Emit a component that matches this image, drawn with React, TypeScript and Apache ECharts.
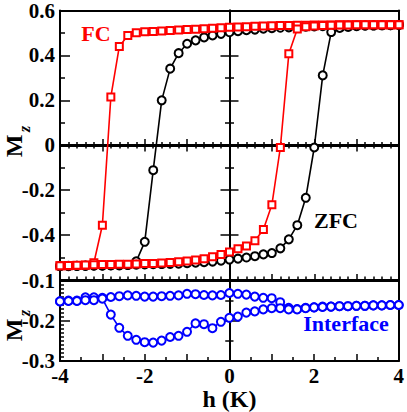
import React, { useEffect, useRef } from 'react';
import * as echarts from 'echarts';

// field h (K)
const H = [
  -4.0, -3.8, -3.6, -3.4, -3.2, -3.0, -2.8, -2.6, -2.4, -2.2, -2.0,
  -1.8, -1.6, -1.4, -1.2, -1.0, -0.8, -0.6, -0.4, -0.2, 0.0,
  0.2, 0.4, 0.6, 0.8, 1.0, 1.2, 1.4, 1.6, 1.8, 2.0,
  2.2, 2.4, 2.6, 2.8, 3.0, 3.2, 3.4, 3.6, 3.8, 4.0,
];

// FC loop
const fcDesc = [
  -0.536, -0.536, -0.535, -0.534, -0.523, -0.356, 0.215, 0.44, 0.489, 0.501, 0.505,
  0.507, 0.509, 0.511, 0.513, 0.515, 0.517, 0.519, 0.521, 0.523, 0.525,
  0.527, 0.528, 0.53, 0.531, 0.532, 0.533, 0.533, 0.534, 0.534, 0.535,
  0.535, 0.535, 0.536, 0.536, 0.536, 0.536, 0.537, 0.537, 0.537, 0.537,
];
const fcAsc = [
  -0.536, -0.535, -0.534, -0.533, -0.532, -0.531, -0.531, -0.53, -0.53, -0.529, -0.527,
  -0.526, -0.524, -0.522, -0.519, -0.515, -0.511, -0.505, -0.497, -0.487, -0.475,
  -0.461, -0.449, -0.425, -0.375, -0.265, -0.01, 0.407, 0.518, 0.528, 0.531,
  0.533, 0.534, 0.535, 0.535, 0.536, 0.536, 0.536, 0.537, 0.537, 0.537,
];

// ZFC loop
const zfcDesc = [
  -0.538, -0.538, -0.537, -0.537, -0.536, -0.536, -0.535, -0.535, -0.533, -0.517, -0.43,
  -0.111, 0.2, 0.341, 0.41, 0.452, 0.467, 0.48, 0.489, 0.496, 0.503,
  0.508, 0.512, 0.515, 0.519, 0.521, 0.523, 0.525, 0.527, 0.528, 0.529,
  0.53, 0.531, 0.532, 0.533, 0.533, 0.534, 0.534, 0.535, 0.535, 0.536,
];
const zfcAsc = [
  -0.538, -0.537, -0.537, -0.536, -0.535, -0.535, -0.534, -0.533, -0.533, -0.532, -0.531,
  -0.53, -0.529, -0.528, -0.527, -0.525, -0.523, -0.521, -0.518, -0.514, -0.509,
  -0.505, -0.5, -0.494, -0.486, -0.48, -0.459, -0.419, -0.356, -0.234, -0.01,
  0.311, 0.504, 0.522, 0.527, 0.53, 0.532, 0.533, 0.534, 0.535, 0.536,
];

// Interface loop
const ifUpper = [
  -0.151, -0.149, -0.149, -0.141, -0.141, -0.142, -0.14, -0.138, -0.136, -0.137, -0.139,
  -0.139, -0.138, -0.137, -0.136, -0.132, -0.133, -0.135, -0.136, -0.135, -0.13,
  -0.132, -0.134, -0.139, -0.142, -0.143, -0.153, -0.167, -0.17, -0.167, -0.166,
  -0.164, -0.164, -0.163, -0.163, -0.162, -0.162, -0.161, -0.161, -0.16, -0.16,
];
const ifLower = [
  -0.151, -0.15, -0.15, -0.148, -0.148, -0.144, -0.184, -0.217, -0.237, -0.247, -0.253,
  -0.254, -0.249, -0.24, -0.237, -0.227, -0.206, -0.208, -0.218, -0.202, -0.192,
  -0.189, -0.179, -0.176, -0.171, -0.168, -0.168, -0.171, -0.171, -0.168, -0.166,
  -0.165, -0.164, -0.163, -0.163, -0.162, -0.162, -0.161, -0.161, -0.16, -0.16,
];

const FONT = '"Liberation Serif", "Times New Roman", serif';

export default function App() {
  const ref = useRef<HTMLDivElement>(null);
  useEffect(() => {
    const chart = echarts.init(ref.current!, null, { renderer: 'svg' });
    const pairs = (ys: number[]) => H.map((h, i) => [h, ys[i]]);
    const axLine = { show: true, onZero: false, lineStyle: { color: '#000', width: 2 } };
    const tickStyle = { color: '#000', width: 1.5 };
    const noLab = { show: false };
    const noSplit = { show: false };
    const labStyle = { color: '#000', fontFamily: FONT, fontWeight: 'bold', fontSize: 21 };

    const plain = (gridIndex: number, position: string, min: number, max: number) => ({
      type: 'value', gridIndex, position, min, max,
      axisLine: axLine, axisTick: { show: false }, axisLabel: noLab, splitLine: noSplit,
    });
    const ticked = (gridIndex: number, position: string, min: number, max: number, interval: number,
      len: number, minorSplit: number, minorLen: number, offset = 0) => ({
      type: 'value', gridIndex, position, min, max, interval, offset,
      axisLine: axLine,
      axisTick: { show: true, inside: true, length: len, lineStyle: tickStyle },
      minorTick: { show: true, splitNumber: minorSplit, length: minorLen, lineStyle: tickStyle },
      axisLabel: noLab, splitLine: noSplit, minorSplitLine: { show: false },
    });

    const xAxes: any[] = [
      // top panel
      ticked(0, 'bottom', -4, 4, 1, 6, 5, 3.5),
      plain(0, 'top', -4, 4),
      ticked(0, 'bottom', -4, 4, 1, 6, 5, 3, -135),
      ticked(0, 'top', -4, 4, 1, 6, 5, 3, -135),
      // bottom panel
      {
        ...ticked(1, 'bottom', -4, 4, 1, 7, 2, 4),
        axisLabel: {
          show: true, margin: 4, ...labStyle,
          formatter: (v: number) => (Math.round(v) % 2 === 0 ? String(v) : ''),
        },
        name: 'h (K)', nameLocation: 'middle', nameGap: 25,
        nameTextStyle: { color: '#000', fontFamily: FONT, fontWeight: 'bold', fontSize: 24 },
      },
      plain(1, 'top', -4, 4),
    ];
    const yAxes: any[] = [
      {
        ...ticked(0, 'left', -0.6, 0.6, 0.2, 10, 2, 5),
        axisLabel: {
          show: true, margin: 5, ...labStyle,
          formatter: (v: number) => (Math.abs(v + 0.6) < 1e-6 ? '' : Math.abs(v) < 1e-6 ? '0' : v.toFixed(1)),
        },
      },
      plain(0, 'right', -0.6, 0.6),
      ticked(0, 'left', -0.6, 0.6, 0.2, 9, 2, 4.5, -169.5),
      ticked(0, 'right', -0.6, 0.6, 0.2, 9, 2, 4.5, -169.5),
      {
        ...ticked(1, 'left', -0.3, -0.1, 0.1, 10, 10, 4),
        axisLabel: { show: true, margin: 5, ...labStyle, formatter: (v: number) => v.toFixed(1) },
      },
      plain(1, 'right', -0.3, -0.1),
      ticked(1, 'left', -0.3, -0.1, 0.1, 10, 2, 4, -169.5),
      ticked(1, 'right', -0.3, -0.1, 0.1, 10, 2, 4, -169.5),
    ];

    const mk = (data: number[], color: string, symbol: string, size: number, xi: number, yi: number) => ({
      type: 'line', xAxisIndex: xi, yAxisIndex: yi, data: pairs(data), clip: false,
      symbol, symbolSize: size, showAllSymbol: true,
      lineStyle: { color, width: 1.6 },
      itemStyle: { color, borderColor: color, borderWidth: 1.4 },
    });

    const mz = (x: number, y: number) => ({
      type: 'group', x, y, rotation: Math.PI / 2,
      children: [
        { type: 'text', x: 0, y: 0, style: { text: 'M', fontFamily: FONT, fontWeight: 'bold', fontSize: 24, fill: '#000', textAlign: 'center', textVerticalAlign: 'middle' } },
        { type: 'text', x: 17, y: 11, style: { text: 'z', fontFamily: FONT, fontWeight: 'bold', fontStyle: 'italic', fontSize: 16, fill: '#000', textAlign: 'center', textVerticalAlign: 'middle' } },
      ],
    });
    const label = (text: string, x: number, y: number, fill: string) => ({
      type: 'text', x, y,
      style: { text, fontFamily: FONT, fontWeight: 'bold', fontSize: 22, fill, textAlign: 'center', textVerticalAlign: 'middle' },
    });

    chart.setOption({
      animation: false,
      backgroundColor: '#fff',
      grid: [
        { left: 60, top: 10, width: 339, height: 270 },
        { left: 60, top: 281, width: 339, height: 80 },
      ],
      xAxis: xAxes,
      yAxis: yAxes,
      series: [
        mk(zfcDesc, '#000', 'emptyCircle', 8, 0, 0),
        mk(zfcAsc, '#000', 'emptyCircle', 8, 0, 0),
        mk(fcDesc, '#ff0000', 'emptyRect', 7, 0, 0),
        mk(fcAsc, '#ff0000', 'emptyRect', 7, 0, 0),
        mk(ifUpper, '#0000ff', 'emptyCircle', 8, 4, 4),
        mk(ifLower, '#0000ff', 'emptyCircle', 8, 4, 4),
      ],
      graphic: [
        mz(13.5, 146),
        mz(13.5, 330),
        label('FC', 96, 33, '#ff0000'),
        label('ZFC', 336, 220, '#000'),
        label('Interface', 346, 323, '#0000ff'),
      ],
    });
    return () => chart.dispose();
  }, []);
  return (
    <div
      ref={ref}
      style={{ position: 'fixed', left: 0, top: 0, width: 407, height: 412, background: '#fff' }}
    />
  );
}
